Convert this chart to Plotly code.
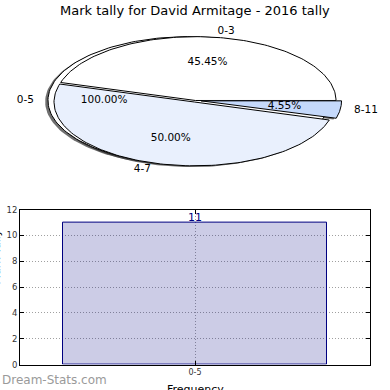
import numpy as np
import plotly.graph_objects as go

# ---- data ----
title_text = "Mark tally for David Armitage - 2016 tally"
pie_labels = ["0-3", "4-7", "8-11"]
pie_values = [45.45, 50.00, 4.55]
pie_colors = ["#ffffff", "#e9f0fd", "#c5d9fb"]
pie_explode = [0.0, 0.025, 0.04]

outer_labels = ["0-5"]
outer_values = [100.0]
outer_explode = [0.05]

bar_categories = ["0-5"]
bar_values = [11]
y_ticks = [0, 2, 4, 6, 8, 10, 12]

FONT = "DejaVu Sans"
W = H = 390

fig = go.Figure()


def arc(t1, t2, n=120):
    t = np.radians(np.linspace(t1, t2, n))
    return np.cos(t), np.sin(t)


def wedge(t1, t2, ex, full=False):
    m = np.radians((t1 + t2) / 2)
    ox, oy = ex * np.cos(m), ex * np.sin(m)
    ax_, ay_ = arc(t1, t2, 200 if full else 120)
    if full:
        xs, ys = ax_ + ox, ay_ + oy
    else:
        xs = np.concatenate([[ox], ax_ + ox, [ox]])
        ys = np.concatenate([[oy], ay_ + oy, [oy]])
    return xs, ys, ox, oy


def angles(values):
    tot = sum(values)
    out, start = [], 0.0
    for v in values:
        sweep = 360.0 * v / tot
        out.append((start, start + sweep))
        start += sweep
    return out


outer_ang = angles(outer_values)
inner_ang = angles(pie_values)

SH = 0.02
shadow_col = "rgba(50,50,50,0.7)"

for (t1, t2), ex in zip(outer_ang, outer_explode):
    xs, ys, _, _ = wedge(t1, t2, ex, full=True)
    fig.add_trace(go.Scatter(x=xs - SH, y=ys - SH, mode="lines", fill="toself",
                             fillcolor=shadow_col, line=dict(width=0),
                             hoverinfo="skip", showlegend=False, xaxis="x", yaxis="y"))
for (t1, t2), ex in zip(inner_ang, pie_explode):
    xs, ys, _, _ = wedge(t1, t2, ex)
    fig.add_trace(go.Scatter(x=xs - SH, y=ys - SH, mode="lines", fill="toself",
                             fillcolor=shadow_col, line=dict(width=0),
                             hoverinfo="skip", showlegend=False, xaxis="x", yaxis="y"))

txt_x, txt_y, txt_t, txt_pos = [], [], [], []
for lab, v, (t1, t2), ex in zip(outer_labels, outer_values, outer_ang, outer_explode):
    xs, ys, ox, oy = wedge(t1, t2, ex, full=True)
    fig.add_trace(go.Scatter(x=xs, y=ys, mode="lines", fill="toself",
                             fillcolor="#ffffff", line=dict(color="black", width=1),
                             hoverinfo="skip", showlegend=False, xaxis="x", yaxis="y"))
    m = np.radians((t1 + t2) / 2)
    txt_x.append(ox + 1.1 * np.cos(m)); txt_y.append(oy + 1.1 * np.sin(m)); txt_t.append(lab)
    txt_pos.append("middle left" if np.cos(m) < 0 else "middle right")
    txt_x.append(ox + 0.6 * np.cos(m)); txt_y.append(oy + 0.6 * np.sin(m))
    txt_t.append(f"{v / sum(outer_values) * 100:.2f}%"); txt_pos.append("middle center")

for lab, v, col, (t1, t2), ex in zip(pie_labels, pie_values, pie_colors, inner_ang, pie_explode):
    xs, ys, ox, oy = wedge(t1, t2, ex)
    fig.add_trace(go.Scatter(x=xs, y=ys, mode="lines", fill="toself",
                             fillcolor=col, line=dict(color="black", width=1),
                             hoverinfo="skip", showlegend=False, xaxis="x", yaxis="y"))
    m = np.radians((t1 + t2) / 2)
    txt_x.append(ox + 1.1 * np.cos(m)); txt_y.append(oy + 1.1 * np.sin(m)); txt_t.append(lab)
    txt_pos.append("middle left" if np.cos(m) < 0 else "middle right")
    txt_x.append(ox + 0.6 * np.cos(m)); txt_y.append(oy + 0.6 * np.sin(m))
    txt_t.append(f"{v / sum(pie_values) * 100:.2f}%"); txt_pos.append("middle center")

fig.add_trace(go.Scatter(x=txt_x, y=txt_y, text=txt_t, mode="text",
                         textposition=txt_pos,
                         textfont=dict(family=FONT, size=10.5, color="black"),
                         hoverinfo="skip", showlegend=False, xaxis="x", yaxis="y"))

# ---- bar chart ----
fig.add_trace(go.Bar(x=bar_categories, y=bar_values, width=0.8,
                     marker=dict(color="rgba(0,0,128,0.2)",
                                 line=dict(color="#000080", width=1)),
                     hoverinfo="skip", showlegend=False, xaxis="x2", yaxis="y2"))
for c, v in zip(bar_categories, bar_values):
    fig.add_annotation(x=c, y=v, xref="x2", yref="y2", text=str(v), showarrow=False,
                       yanchor="middle", yshift=5,
                       font=dict(family=FONT, size=11, color="#000080"))

cx, cy, a, b = 195.5, 98.0, 140.5, 65.5
pie_top, pie_bot = 20, 190
fig.update_layout(
    xaxis=dict(domain=[0, 1], range=[-cx / a, (W - cx) / a], visible=False, fixedrange=True),
    yaxis=dict(domain=[(H - pie_bot) / H, (H - pie_top) / H],
               range=[(cy - pie_bot) / b, (cy - pie_top) / b], visible=False, fixedrange=True),
)

bx0, bx1, by0, by1 = 20, 370, 210, 369
grid_common = dict(showgrid=True, gridcolor="#a0a0a0", griddash="1px,2px", gridwidth=1)
fig.update_layout(
    xaxis2=dict(domain=[bx0 / W, bx1 / W], anchor="y2", range=[-0.53, 0.53],
                type="category", showline=True, linecolor="black", linewidth=1, mirror="allticks",
                ticks="inside", ticklen=4, tickcolor="black",
                tickfont=dict(family=FONT, size=8, color="#333333"), zeroline=False,
                **grid_common),
    yaxis2=dict(domain=[(H - by1) / H, (H - by0) / H], anchor="x2", range=[0, 12],
                tickvals=y_ticks, showline=True, linecolor="black", linewidth=1, mirror="allticks",
                ticks="inside", ticklen=4, tickcolor="black",
                tickfont=dict(family=FONT, size=8.5, color="#333333"), zeroline=False,
                **grid_common),
)

fig.add_annotation(x=0.5, y=1, xref="paper", yref="paper", yanchor="middle", yshift=-5,
                   text=title_text, showarrow=False,
                   font=dict(family=FONT, size=13, color="black"))
fig.add_annotation(x=(bx0 + bx1) / 2 / W, y=0, xref="paper", yref="paper", yanchor="top",
                   yshift=4, text="Frequency", showarrow=False,
                   font=dict(family=FONT, size=11, color="black"))
fig.add_annotation(x=0, y=(H - (by0 + by1) / 2) / H, xref="paper", yref="paper",
                   xanchor="center", xshift=-3, textangle=-90, text="Mark Tally",
                   showarrow=False, font=dict(family=FONT, size=11, color="black"))
fig.add_annotation(x=0, y=0, xref="paper", yref="paper", xanchor="left", yanchor="middle",
                   yshift=5, text="Dream-Stats.com", showarrow=False,
                   font=dict(family=FONT, size=12, color="#9a9a9a"))

fig.update_layout(width=W, height=H, margin=dict(l=0, r=0, t=0, b=0),
                  paper_bgcolor="white", plot_bgcolor="rgba(0,0,0,0)",
                  bargap=0, showlegend=False)

fig.write_html("out.html", config={"displayModeBar": False},
               post_script="document.body.style.margin='0';document.body.style.padding='0';")
